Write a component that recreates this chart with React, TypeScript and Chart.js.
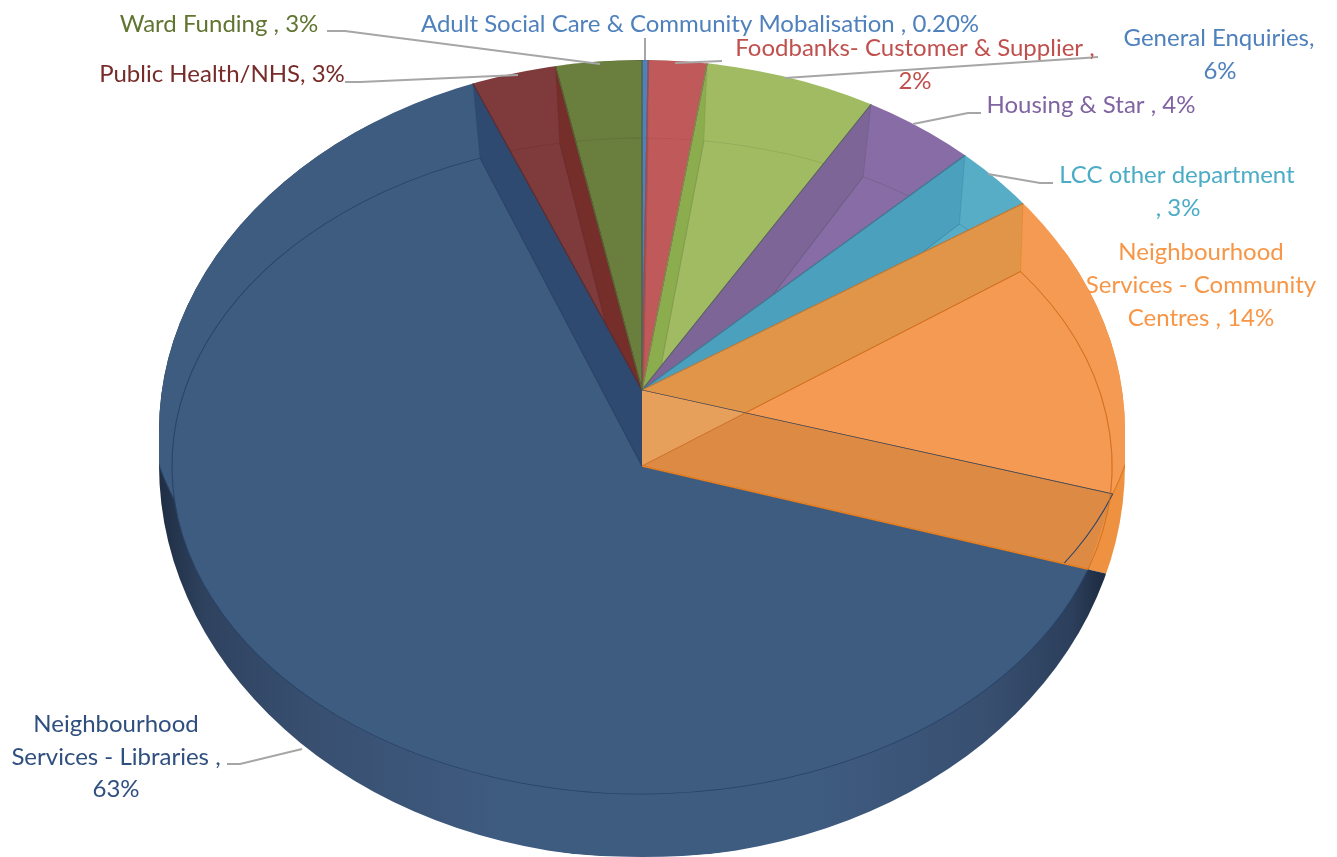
import React, { useEffect, useRef } from "react";
import { Chart, registerables } from "chart.js";

Chart.register(...registerables);

// ---- data ----
const categories = [
  "Adult Social Care & Community Mobalisation",
  "Foodbanks- Customer & Supplier",
  "General Enquiries",
  "Housing & Star",
  "LCC other department",
  "Neighbourhood Services - Community Centres",
  "Neighbourhood Services - Libraries",
  "Public Health/NHS",
  "Ward Funding",
];
const shares = [0.2, 1.9, 5.7, 4.0, 3.1, 15.2, 64.3, 2.8, 2.8];
const faceColors = ["#4f81bd", "#c05a5a", "#a0bb62", "#886ca5", "#58adc6", "#f59a52", "#3e5b80", "#7f3b3b", "#6a7e3e"];
const wallColors = ["#4f81bd", "#c05a5a", "#8cad4e", "#7e6597", "#4aa0bd", "#e09548", "#2e4a70", "#762e2a", "#6a7e3e"];
const edgeColors = ["#3f6a9e", "#a04a4a", "#7d8f50", "#5d5a75", "#3f7f9a", "#dd7a20", "#2a4468", "#662a2a", "#556633"];
const labelColors = ["#4f81bd", "#c0504d", "#4f81bd", "#8064a2", "#4bacc6", "#f79646", "#2f4f7f", "#772c2a", "#5f7530"];

const labelLines: [string, number, number, number][] = [
  ["Adult Social Care & Community Mobalisation , 0.20%", 0, 700, 24],
  ["Foodbanks- Customer & Supplier ,", 1, 915, 48],
  ["2%", 1, 915, 81],
  ["General Enquiries,", 2, 1219, 38],
  ["6%", 2, 1220, 71],
  ["Housing & Star , 4%", 3, 1091, 105],
  ["LCC other department", 4, 1177, 175],
  [", 3%", 4, 1178, 208],
  ["Neighbourhood", 5, 1201, 252],
  ["Services - Community", 5, 1201, 285],
  ["Centres , 14%", 5, 1201, 318],
  ["Neighbourhood", 6, 116, 724],
  ["Services - Libraries ,", 6, 116, 757],
  ["63%", 6, 116, 789],
  ["Public Health/NHS, 3%", 7, 222, 74],
  ["Ward Funding , 3%", 8, 219, 24],
];

const leaders: number[][] = [
  [645, 38, 645, 60],
  [722, 61, 675, 63],
  [1098, 57, 1085, 58, 785, 78],
  [981, 113, 968, 113, 913, 124],
  [1053, 183, 1040, 183, 988, 174],
  [227, 764, 240, 764, 302, 749],
  [345, 82, 360, 82, 518, 75],
  [327, 31, 345, 31, 600, 64],
];

// ---- projected pie geometry ----
const CX = 642;
const BACK = { y: 390, rx: 496, ry: 330 };
const FRONT = { y: 466, rx: 470, ry: 328 };
const RIM = { y: 466, rx: 560, ry: 391 };
const SIL = { rx: 483, upY: 431, upR: 371, lowY: 465, lowR: 393 };

const silhouette = (ctx: CanvasRenderingContext2D) => {
  ctx.beginPath();
  ctx.ellipse(CX, SIL.upY, SIL.rx, SIL.upR, 0, Math.PI, 2 * Math.PI);
  ctx.lineTo(CX + SIL.rx, SIL.lowY);
  ctx.ellipse(CX, SIL.lowY, SIL.rx, SIL.lowR, 0, 0, Math.PI);
  ctx.closePath();
};

const insideSil = (x: number, y: number) => {
  const nx = (x - CX) / SIL.rx;
  const ny = y <= SIL.upY ? (y - SIL.upY) / SIL.upR : y >= SIL.lowY ? (y - SIL.lowY) / SIL.lowR : 0;
  return nx * nx + ny * ny <= 1;
};

const backRim = (a: number) => {
  let r = 0;
  let p = { x: CX, y: BACK.y };
  while (r < 1) {
    r += 0.002;
    const q = { x: CX + BACK.rx * r * Math.cos(a), y: BACK.y + BACK.ry * r * Math.sin(a) };
    if (!insideSil(q.x, q.y)) break;
    p = q;
  }
  return p;
};
const frontRim = (a: number) => ({ x: CX + FRONT.rx * Math.cos(a), y: FRONT.y + FRONT.ry * Math.sin(a) });

const quad = (ctx: CanvasRenderingContext2D, a: number) => {
  const p = backRim(a);
  const q = frontRim(a);
  ctx.beginPath();
  ctx.moveTo(CX, BACK.y);
  ctx.lineTo(p.x, p.y);
  ctx.lineTo(q.x, q.y);
  ctx.lineTo(CX, FRONT.y);
  ctx.closePath();
};

const project = (ctx: CanvasRenderingContext2D, arc: any, g: { y: number; rx: number; ry: number }) => {
  ctx.translate(CX, g.y);
  ctx.scale(g.rx / arc.outerRadius, g.ry / arc.outerRadius);
  ctx.translate(-arc.x, -arc.y);
};

const paintArc = (ctx: CanvasRenderingContext2D, arc: any, g: any, over: any) => {
  const saved = arc.options;
  arc.options = { ...saved, ...over };
  ctx.save();
  project(ctx, arc, g);
  arc.draw(ctx);
  ctx.restore();
  arc.options = saved;
};

const clipWedge = (ctx: CanvasRenderingContext2D, arc: any, g: any) => {
  ctx.save();
  project(ctx, arc, g);
  ctx.beginPath();
  ctx.moveTo(arc.x, arc.y);
  ctx.arc(arc.x, arc.y, arc.outerRadius, arc.startAngle, arc.endAngle);
  ctx.closePath();
  ctx.restore();
  ctx.clip();
};

const piePlugin = {
  id: "projectedPie",
  beforeDatasetsDraw(chart: any) {
    const ctx: CanvasRenderingContext2D = chart.ctx;
    const arcs: any[] = chart.getDatasetMeta(0).data;
    const main = arcs[6];
    const none = "rgba(0,0,0,0)";
    const toChartX = (x: number) => main.x + ((x - CX) * main.outerRadius) / RIM.rx;

    ctx.save();
    silhouette(ctx);
    ctx.clip();

    // side rim
    const grad = ctx.createLinearGradient(toChartX(160), 0, toChartX(1100), 0);
    grad.addColorStop(0, "#1f2e44");
    grad.addColorStop(0.05, "#2f4360");
    grad.addColorStop(0.16, "#384f70");
    grad.addColorStop(0.36, "#3e5b80");
    grad.addColorStop(0.7, "#3e5b80");
    grad.addColorStop(0.88, "#384f70");
    grad.addColorStop(0.97, "#2c3f5c");
    grad.addColorStop(1, "#1f2e44");
    paintArc(ctx, arcs[5], RIM, { backgroundColor: "#ee9140", borderWidth: 0 });
    paintArc(ctx, main, RIM, { backgroundColor: grad, borderWidth: 0 });

    // back faces with their inner walls
    arcs.forEach((arc, i) => {
      const from = arc.startAngle + Math.PI / 2;
      const to = arc.endAngle + Math.PI / 2;
      ctx.save();
      clipWedge(ctx, arc, BACK);
      paintArc(ctx, arc, BACK, { backgroundColor: faceColors[i], borderWidth: 0 });
      ctx.fillStyle = wallColors[i];
      ctx.strokeStyle = edgeColors[i];
      ctx.lineWidth = 1;
      if (to <= Math.PI) {
        quad(ctx, arc.startAngle);
        ctx.fill();
        ctx.globalAlpha = 0.35;
        ctx.stroke();
        ctx.globalAlpha = 1;
      } else if (from < Math.PI || from >= Math.PI) {
        quad(ctx, arc.endAngle);
        ctx.fill();
        ctx.globalAlpha = 0.35;
        ctx.stroke();
        ctx.globalAlpha = 1;
      }
      if (i !== 6) {
        paintArc(ctx, arc, FRONT, { backgroundColor: none, borderColor: edgeColors[i] + "66", borderWidth: 1 });
      }
      ctx.restore();
    });

    // far side of the large slice's cut, seen through the smaller one
    const cut = arcs[5];
    ctx.fillStyle = "#dc8a44";
    quad(ctx, cut.endAngle);
    ctx.fill();
    ctx.save();
    quad(ctx, cut.endAngle);
    ctx.clip();
    quad(ctx, cut.startAngle);
    ctx.fillStyle = "#e6a05c";
    ctx.fill();
    ctx.restore();

    // edges of the back faces
    arcs.forEach((arc, i) => {
      paintArc(ctx, arc, BACK, { backgroundColor: none, borderColor: edgeColors[i], borderWidth: 1 });
    });

    // top face
    paintArc(ctx, cut, FRONT, { backgroundColor: none, borderColor: "#c8651a", borderWidth: 0.8 });
    paintArc(ctx, main, FRONT, { backgroundColor: faceColors[6], borderColor: "#2a4468", borderWidth: 1 });
    ctx.strokeStyle = "#e9801f";
    ctx.lineWidth = 1.5;
    const e = frontRim(main.startAngle);
    ctx.beginPath();
    ctx.moveTo(CX, FRONT.y);
    ctx.lineTo(e.x, e.y);
    ctx.stroke();
    ctx.restore();

    // leader lines
    ctx.save();
    ctx.strokeStyle = "#a6a6a6";
    ctx.lineWidth = 2;
    leaders.forEach((l) => {
      ctx.beginPath();
      ctx.moveTo(l[0], l[1]);
      for (let k = 2; k < l.length; k += 2) ctx.lineTo(l[k], l[k + 1]);
      ctx.stroke();
    });
    ctx.restore();

    // labels
    ctx.save();
    ctx.font = '24px Lato, "Open Sans", sans-serif';
    ctx.textAlign = "center";
    ctx.textBaseline = "middle";
    labelLines.forEach(([text, c, x, y]) => {
      ctx.fillStyle = labelColors[c];
      ctx.fillText(text, x, y);
    });
    ctx.restore();
    return false;
  },
};

export default function App() {
  const ref = useRef<HTMLCanvasElement>(null);
  useEffect(() => {
    const chart = new Chart(ref.current as HTMLCanvasElement, {
      type: "pie",
      data: {
        labels: categories,
        datasets: [{ data: shares, backgroundColor: faceColors, borderColor: edgeColors, borderWidth: 0 }],
      },
      options: {
        responsive: false,
        animation: false,
        devicePixelRatio: 1,
        plugins: { legend: { display: false }, tooltip: { enabled: false } },
      },
      plugins: [piePlugin],
    } as any);
    return () => chart.destroy();
  }, []);
  return (
    <div style={{ position: "fixed", left: 0, top: 0, width: 1337, height: 857, overflow: "hidden", background: "#fff" }}>
      <canvas ref={ref} width={1337} height={857} style={{ display: "block" }} />
    </div>
  );
}
